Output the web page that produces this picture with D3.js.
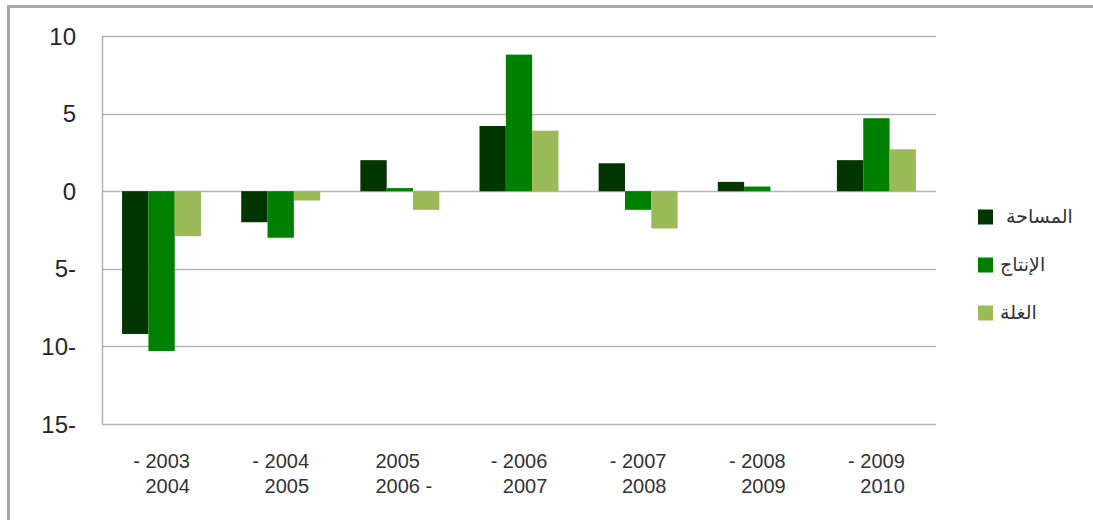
<!DOCTYPE html>
<html>
<head>
<meta charset="utf-8">
<script src="https://cdn.jsdelivr.net/npm/d3@7/dist/d3.min.js"></script>
<style>
  html, body { margin: 0; padding: 0; background: #fff; }
  svg { display: block; }
</style>
</head>
<body>
<svg id="chart" width="1093" height="520"></svg>
<script>
// ---- data ----
const categories = ["2003-2004", "2004-2005", "2005-2006", "2006-2007", "2007-2008", "2008-2009", "2009-2010"];
const xLabelLines = [
  ["- 2003", "2004"],
  ["- 2004", "2005"],
  ["2005", "2006 -"],
  ["- 2006", "2007"],
  ["- 2007", "2008"],
  ["- 2008", "2009"],
  ["- 2009", "2010"]
];
const seriesNames = ["المساحة ", "الإنتاج", "الغلة"];
const area       = [-9.2, -2.0, 2.0, 4.2, 1.8, 0.6, 2.0];
const production = [-10.3, -3.0, 0.2, 8.8, -1.2, 0.3, 4.7];
const yieldVals  = [-2.9, -0.6, -1.2, 3.9, -2.4, 0.0, 2.7];
const yTicks      = [10, 5, 0, -5, -10, -15];
const yTickLabels = ["10", "5", "0", "5-", "10-", "15-"];
const colors = ["#013601", "#008000", "#9bbb59"];

const seriesValues = [area, production, yieldVals];

// ---- layout ----
const svg = d3.select("#chart");
const plotLeft = 102, plotRight = 936, plotTop = 36, plotBottom = 424;

// outer frame
svg.append("path")
  .attr("d", `M8.5,520 L8.5,6.5 L1093,6.5`)
  .attr("fill", "none")
  .attr("stroke", "#a8a8a8")
  .attr("stroke-width", 3);

const y = d3.scaleLinear().domain([-15, 10]).range([plotBottom, plotTop]);
const x0 = d3.scaleBand().domain(categories).range([plotLeft, plotRight]).paddingInner(0.337).paddingOuter(0.1685);
const x1 = d3.scaleBand().domain(d3.range(3)).range([0, x0.bandwidth()]).padding(0);

// gridlines
svg.append("g").selectAll("line").data(yTicks).join("line")
  .attr("x1", plotLeft).attr("x2", plotRight)
  .attr("y1", d => Math.round(y(d)) + 0.5).attr("y2", d => Math.round(y(d)) + 0.5)
  .attr("stroke", "#b4b4b4").attr("stroke-width", 1.5);

// left axis line
svg.append("line")
  .attr("x1", plotLeft + 0.5).attr("x2", plotLeft + 0.5)
  .attr("y1", y(10)).attr("y2", y(-15))
  .attr("stroke", "#b4b4b4").attr("stroke-width", 1.5);

// y tick labels
svg.append("g").selectAll("text").data(yTicks).join("text")
  .attr("x", 76).attr("y", d => y(d)).attr("dy", "0.36em")
  .attr("text-anchor", "end")
  .attr("font-family", "Liberation Sans, Arial, sans-serif")
  .attr("font-size", 24)
  .attr("fill", "#262626")
  .text((d, i) => yTickLabels[i]);

// bars
const groups = svg.append("g").selectAll("g").data(categories).join("g")
  .attr("transform", d => `translate(${x0(d)},0)`);
groups.selectAll("rect")
  .data((c, ci) => seriesValues.map((s, si) => ({ si, v: s[ci] })))
  .join("rect")
  .attr("x", d => x1(d.si))
  .attr("width", x1.bandwidth())
  .attr("y", d => y(Math.max(0, d.v)))
  .attr("height", d => Math.abs(y(d.v) - y(0)))
  .attr("fill", d => colors[d.si]);

// x labels
const xl = svg.append("g");
categories.forEach((c, i) => {
  const cx = x0(c) + x0.bandwidth() / 2;
  const lines = xLabelLines[i];
  const g = xl.append("g");
  const texts = lines.map((t, li) => g.append("text")
    .attr("y", 468 + li * 25)
    .attr("font-family", "Liberation Sans, Arial, sans-serif")
    .attr("font-size", 20)
    .attr("fill", "#333")
    .style("white-space", "pre")
    .text(t));
  const w = d3.max(texts, t => t.node().getComputedTextLength());
  const rightAlign = lines[0].startsWith("-");
  texts.forEach(t => {
    if (rightAlign) t.attr("text-anchor", "end").attr("x", cx + w / 2);
    else t.attr("text-anchor", "start").attr("x", cx - w / 2 + 4);
  });
});

// legend
const legendY = d3.scaleLinear().domain([0, 2]).range([217, 313]);
const lg = svg.append("g").selectAll("g").data(seriesNames).join("g")
  .attr("transform", (d, i) => `translate(978,${legendY(i)})`);
lg.append("rect")
  .attr("x", 0).attr("y", -7.5).attr("width", 15).attr("height", 15)
  .attr("fill", (d, i) => colors[i]);
lg.append("text")
  .attr("x", 22).attr("y", 0).attr("dy", "0.3em")
  .attr("font-family", "DejaVu Sans, Noto Sans, sans-serif")
  .attr("font-size", 19)
  .attr("fill", "#333")
  .attr("direction", "rtl")
  .attr("text-anchor", "end")
  .style("white-space", "pre")
  .text(d => d);
</script>
</body>
</html>
